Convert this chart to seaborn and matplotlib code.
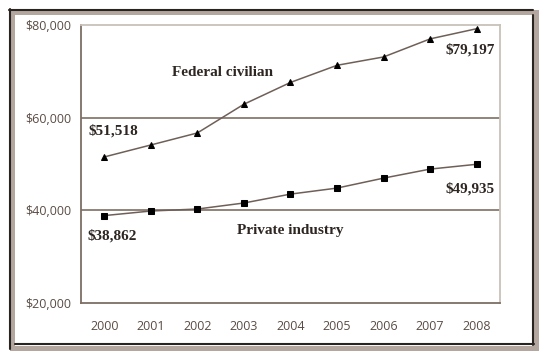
import pandas as pd
import matplotlib.pyplot as plt
import matplotlib.ticker as mticker
from matplotlib.patches import Rectangle
from matplotlib.lines import Line2D
import seaborn as sns

# Salários médios anuais
anos = [2000, 2001, 2002, 2003, 2004, 2005, 2006, 2007, 2008]
federal = [51518, 54100, 56700, 62900, 67600, 71300, 73100, 77000, 79197]
privado = [38862, 39850, 40280, 41580, 43500, 44800, 46950, 48900, 49935]
y_ticks = [20000, 40000, 60000, 80000]

df = pd.DataFrame({'ano': anos, 'federal': federal, 'privado': privado})

sns.set_style('white')
cor_linha = '#6e6058'
cor_eixo = '#7d6e64'
cor_texto = '#5a4c44'

W, H = 554, 362
fig = plt.figure(figsize=(W / 100, H / 100), dpi=100)
ax = fig.add_axes([0.1462, 0.163, 0.7563, 0.768])

sns.lineplot(data=df, x='ano', y='federal', ax=ax, color=cor_linha, lw=1.1,
             marker='^', markersize=5, markerfacecolor='black', markeredgecolor='black')
sns.lineplot(data=df, x='ano', y='privado', ax=ax, color=cor_linha, lw=1.1,
             marker='s', markersize=4, markerfacecolor='black', markeredgecolor='black')

ax.set_xlim(anos[0] - 0.5, anos[-1] + 0.5)
ax.set_ylim(y_ticks[0], y_ticks[-1])
ax.set_xlabel('')
ax.set_ylabel('')

# linhas de grade nos valores intermediários
for v in y_ticks[1:-1]:
    ax.axhline(v, color=cor_eixo, lw=1.2, zorder=0)

ax.set_yticks(y_ticks)
ax.set_yticklabels(['$' + format(v, ',') for v in y_ticks])
ax.set_xticks(anos)
ax.set_xticklabels([str(a) for a in anos])
ax.xaxis.set_minor_locator(mticker.FixedLocator([a - 0.5 for a in anos] + [anos[-1] + 0.5]))
ax.tick_params(axis='x', which='major', length=0, pad=12, labelsize=9, labelcolor=cor_texto)
ax.tick_params(axis='x', which='minor', length=4, width=1, color=cor_eixo, direction='out')
ax.tick_params(axis='y', length=4, width=1, color=cor_eixo, direction='out', pad=3,
               labelsize=9, labelcolor=cor_texto)
for lab in ax.get_xticklabels() + ax.get_yticklabels():
    lab.set_family('Open Sans')

for lado in ['left', 'bottom']:
    ax.spines[lado].set_color(cor_eixo)
    ax.spines[lado].set_linewidth(1.3)
for lado in ['top', 'right']:
    ax.spines[lado].set_color('#c9c1ba')
    ax.spines[lado].set_linewidth(1.3)

fonte = dict(family='Liberation Serif', fontweight='bold', fontsize=11, color='#2e2622')
ax.text(2000.19, 57100, '$51,518', ha='center', va='center', **fonte)
ax.text(2002.55, 69850, 'Federal civilian', ha='center', va='center', **fonte)
ax.text(2007.85, 74600, '$79,197', ha='center', va='center', **fonte)
ax.text(2000.17, 34460, '$38,862', ha='center', va='center', **fonte)
ax.text(2004.0, 35750, 'Private industry', ha='center', va='center', **fonte)
ax.text(2007.85, 44600, '$49,935', ha='center', va='center', **fonte)


# moldura externa (em pixels)
def px(x, y):
    return x / W, 1 - y / H


x0, y0 = px(11.5, 347.5)
x1, y1 = px(535.5, 11.5)
fig.patches.append(Rectangle((x0, y0), x1 - x0, y1 - y0, transform=fig.transFigure,
                             fill=False, edgecolor='#b3a79f', lw=3.6, zorder=0))
escuro = '#2a2420'
for (xa, ya), (xb, yb) in [((9, 9.5), (533, 9.5)), ((9.5, 9), (9.5, 349)),
                           ((533, 15), (533, 344.5)), ((15, 344), (533.5, 344))]:
    pa, pb = px(xa, ya), px(xb, yb)
    fig.lines.append(Line2D([pa[0], pb[0]], [pa[1], pb[1]], transform=fig.transFigure,
                            color=escuro, lw=1.5))

fig.savefig('out.png', dpi=100)
